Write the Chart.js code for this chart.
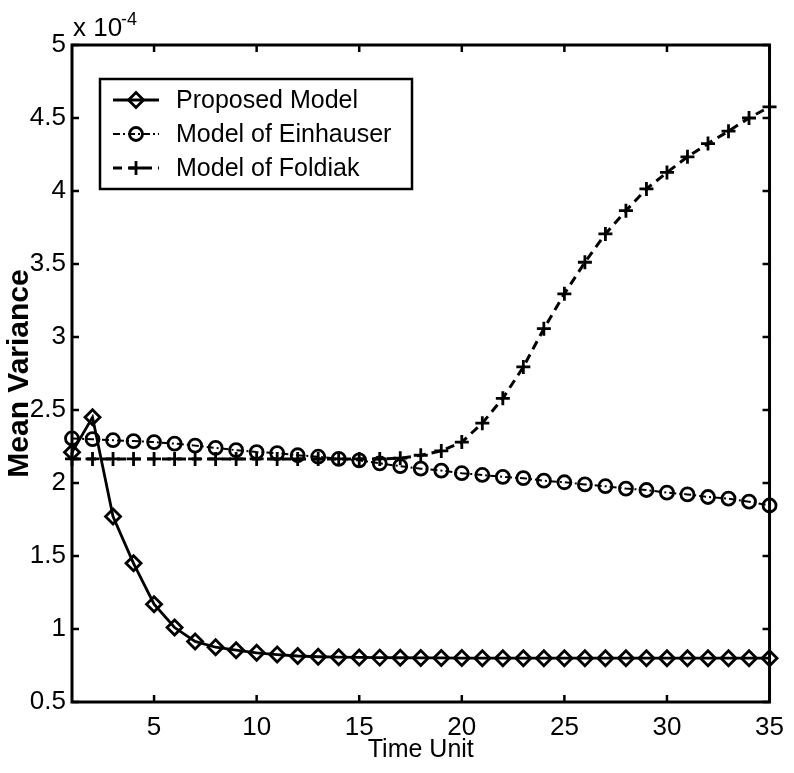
<!DOCTYPE html>
<html lang="en">
<head>
    <meta charset="UTF-8">
    <title>Mean Variance over Time Unit</title>
    <script src="https://cdn.jsdelivr.net/npm/chart.js"></script>
    <style>
        body { margin: 0; background: #fff; }
        .chart-box { width: 794px; height: 773px; }
    </style>
</head>
<body>
    <div class="chart-box">
        <canvas id="varianceChart" width="794" height="773"></canvas>
    </div>

    <script>
        // values in units of 1e-4
        const timeSteps = [1, 2, 3, 4, 5, 6, 7, 8, 9, 10, 11, 12, 13, 14, 15, 16, 17, 18,
            19, 20, 21, 22, 23, 24, 25, 26, 27, 28, 29, 30, 31, 32, 33, 34, 35];
        const proposedModel = [2.21, 2.45, 1.77, 1.45, 1.17, 1.01, 0.915, 0.875, 0.855, 0.837,
            0.825, 0.815, 0.81, 0.807, 0.805, 0.804, 0.803, 0.802, 0.802, 0.801,
            0.8, 0.8, 0.8, 0.8, 0.8, 0.8, 0.8, 0.8, 0.8, 0.8, 0.8, 0.8, 0.8, 0.8, 0.8];
        const einhauserModel = [2.305, 2.3, 2.293, 2.287, 2.28, 2.27, 2.256, 2.24, 2.225, 2.212,
            2.205, 2.19, 2.18, 2.165, 2.155, 2.135, 2.115, 2.098, 2.085, 2.067,
            2.055, 2.042, 2.033, 2.016, 2.005, 1.99, 1.978, 1.962, 1.952, 1.934,
            1.922, 1.904, 1.893, 1.872, 1.846];
        const foldiakModel = [2.165, 2.165, 2.165, 2.165, 2.165, 2.165, 2.165, 2.165, 2.165, 2.165,
            2.165, 2.165, 2.165, 2.165, 2.165, 2.165, 2.17, 2.19, 2.22, 2.28,
            2.41, 2.58, 2.795, 3.057, 3.296, 3.512, 3.706, 3.865, 4.014, 4.127,
            4.234, 4.325, 4.41, 4.5, 4.576];
        const seriesLabels = ['Proposed Model', 'Model of Einhauser', 'Model of Foldiak'];
        const xTickValues = [5, 10, 15, 20, 25, 30, 35];
        const yTickValues = [0.5, 1, 1.5, 2, 2.5, 3, 3.5, 4, 4.5, 5];

        const FONT = '"Liberation Sans", Arial, sans-serif';

        function toPoints(ys) {
            return ys.map((y, i) => ({ x: timeSteps[i], y: y }));
        }

        // box, inward ticks, legend and the x10^-4 label (MATLAB style)
        const matlabFrame = {
            id: 'matlabFrame',
            beforeDatasetsDraw(chart) {
                const ctx = chart.ctx;
                const a = chart.chartArea;
                const xs = chart.scales.x, ys = chart.scales.y;
                ctx.save();
                ctx.strokeStyle = '#000';
                ctx.lineWidth = 3;
                ctx.strokeRect(a.left, a.top, a.right - a.left, a.bottom - a.top);
                ctx.lineWidth = 2.5;
                ctx.beginPath();
                xTickValues.forEach(v => {
                    const px = xs.getPixelForValue(v);
                    ctx.moveTo(px, a.bottom); ctx.lineTo(px, a.bottom - 7);
                    ctx.moveTo(px, a.top); ctx.lineTo(px, a.top + 7);
                });
                yTickValues.forEach(v => {
                    const py = ys.getPixelForValue(v);
                    ctx.moveTo(a.left, py); ctx.lineTo(a.left + 7, py);
                    ctx.moveTo(a.right, py); ctx.lineTo(a.right - 7, py);
                });
                ctx.stroke();

                // exponent
                ctx.fillStyle = '#000';
                ctx.textBaseline = 'alphabetic';
                ctx.font = '26px ' + FONT;
                ctx.fillText('x 10', a.left + 1, a.top - 9);
                ctx.font = '18px ' + FONT;
                ctx.fillText('-4', a.left + 49, a.top - 20);
                ctx.restore();
            },
            afterDraw(chart) {
                const ctx = chart.ctx;
                ctx.save();
                ctx.fillStyle = '#fff';
                ctx.fillRect(100, 79, 312, 110);
                ctx.strokeStyle = '#000';
                ctx.lineWidth = 2.5;
                ctx.strokeRect(100, 79, 312, 110);
                chart.data.datasets.forEach((ds, i) => {
                    const y = 100 + i * 34;
                    ctx.save();
                    ctx.strokeStyle = '#000';
                    ctx.lineWidth = ds.borderWidth;
                    ctx.setLineDash(ds.borderDash || []);
                    ctx.beginPath();
                    ctx.moveTo(113, y); ctx.lineTo(159, y);
                    ctx.stroke();
                    ctx.restore();
                    ctx.save();
                    ctx.strokeStyle = '#000';
                    ctx.fillStyle = 'rgba(0,0,0,0)';
                    ctx.lineWidth = ds.pointBorderWidth;
                    Chart.helpers.drawPoint(ctx, {
                        pointStyle: ds.pointStyle,
                        radius: ds.pointRadius,
                        rotation: 0,
                        borderWidth: ds.pointBorderWidth
                    }, 136, y);
                    ctx.restore();
                    ctx.fillStyle = '#000';
                    ctx.font = '25px ' + FONT;
                    ctx.textBaseline = 'middle';
                    ctx.fillText(ds.label, 176, y + 1);
                });
                ctx.restore();
            }
        };

        window.onload = function() {
            new Chart(document.getElementById('varianceChart'), {
                type: 'line',
                data: {
                    datasets: [{
                        label: seriesLabels[0],
                        data: toPoints(proposedModel),
                        borderColor: '#000',
                        borderWidth: 2.8,
                        pointStyle: 'rectRot',
                        pointRadius: 7.5,
                        pointBorderWidth: 2.8,
                        pointBorderColor: '#000',
                        pointBackgroundColor: 'rgba(0,0,0,0)',
                        clip: false
                    }, {
                        label: seriesLabels[1],
                        data: toPoints(einhauserModel),
                        borderColor: '#000',
                        borderWidth: 2,
                        borderDash: [7, 3, 2, 3],
                        pointStyle: 'circle',
                        pointRadius: 6.5,
                        pointBorderWidth: 2.8,
                        pointBorderColor: '#000',
                        pointBackgroundColor: 'rgba(0,0,0,0)',
                        clip: false
                    }, {
                        label: seriesLabels[2],
                        data: toPoints(foldiakModel),
                        borderColor: '#000',
                        borderWidth: 3,
                        borderDash: [9, 6],
                        pointStyle: 'cross',
                        pointRadius: 7,
                        pointBorderWidth: 2.8,
                        pointBorderColor: '#000',
                        pointBackgroundColor: 'rgba(0,0,0,0)',
                        clip: false
                    }]
                },
                options: {
                    responsive: false,
                    animation: false,
                    layout: { padding: { top: 45, right: 22, left: 0, bottom: 0 } },
                    plugins: {
                        legend: { display: false },
                        tooltip: { enabled: false }
                    },
                    elements: { line: { tension: 0 } },
                    scales: {
                        x: {
                            type: 'linear',
                            min: 1,
                            max: 35,
                            afterBuildTicks: s => { s.ticks = xTickValues.map(v => ({ value: v })); },
                            afterFit: s => { s.height = 71; },
                            grid: { display: false, drawTicks: false },
                            border: { display: false },
                            ticks: {
                                color: '#000',
                                font: { family: FONT, size: 26 },
                                padding: 10,
                                maxRotation: 0,
                                callback: v => String(v)
                            },
                            title: {
                                display: true,
                                text: 'Time Unit',
                                color: '#000',
                                font: { family: FONT, size: 25 },
                                padding: { top: 0, bottom: 8 }
                            }
                        },
                        y: {
                            min: 0.5,
                            max: 5,
                            afterBuildTicks: s => { s.ticks = yTickValues.map(v => ({ value: v })); },
                            afterFit: s => { s.width = 72; },
                            grid: { display: false, drawTicks: false },
                            border: { display: false },
                            ticks: {
                                color: '#000',
                                font: { family: FONT, size: 26 },
                                padding: 6,
                                callback: v => String(v)
                            },
                            title: {
                                display: true,
                                text: 'Mean Variance',
                                color: '#000',
                                font: { family: FONT, size: 30, weight: 'bold' },
                                padding: { top: 2, bottom: 0 }
                            }
                        }
                    }
                },
                plugins: [matlabFrame]
            });
        };
    </script>
</body>
</html>
